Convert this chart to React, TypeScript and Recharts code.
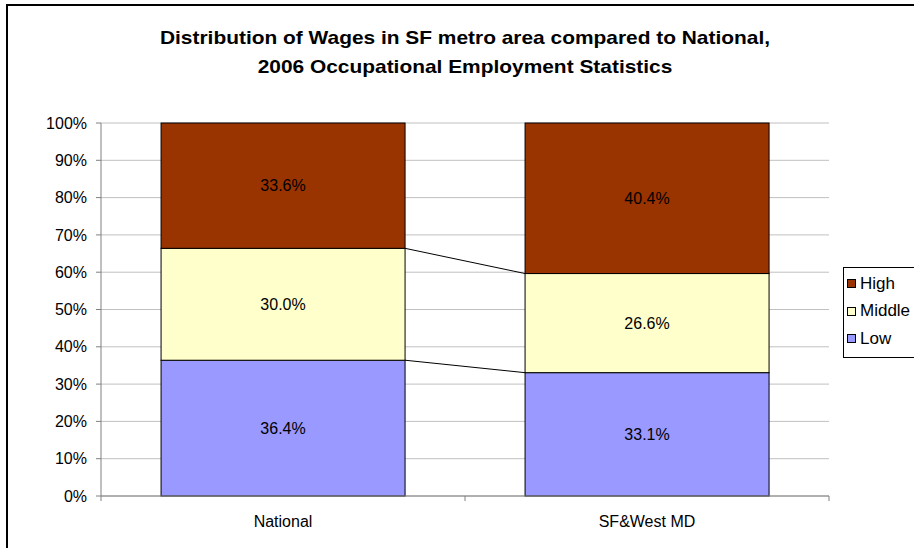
import React from 'react';
import { BarChart, Bar, XAxis, YAxis, CartesianGrid, Legend, LabelList } from 'recharts';

const categories = ['National', 'SF&West MD'];
const lowValues = [36.4, 33.1];
const middleValues = [30.0, 26.6];
const highValues = [33.6, 40.4];
const yTicks = [0, 0.1, 0.2, 0.3, 0.4, 0.5, 0.6, 0.7, 0.8, 0.9, 1];
const legendOrder = ['High', 'Middle', 'Low'];

const LOW = '#9999FF';
const MIDDLE = '#FFFFCC';
const HIGH = '#993300';
const FONT = 'Arial, "Liberation Sans", sans-serif';

const data = categories.map((name, i) => ({
  name,
  low: lowValues[i],
  middle: middleValues[i],
  high: highValues[i],
}));

// chart geometry
const W = 914;
const H = 548;
const margin = { top: 123, right: 85, bottom: 12, left: 41 };
const yAxisWidth = 60;
const plotWidth = W - margin.left - margin.right - yAxisWidth;
const band = plotWidth / categories.length;

// remembers the first bar's edge so the second one can draw the Excel style series line
const seriesEdges: Record<string, { right: number; top: number }> = {};

const makeShape = (key: string, fill: string, connect: boolean) => (props: any) => {
  const { x, y, width, height, index } = props;
  let line = null;
  if (connect) {
    if (index === 0) {
      seriesEdges[key] = { right: x + width, top: y };
    } else if (seriesEdges[key]) {
      const prev = seriesEdges[key];
      line = <line x1={prev.right} y1={prev.top} x2={x} y2={y} stroke="#000" strokeWidth={1} />;
    }
  }
  return (
    <g>
      <rect x={x} y={y} width={width} height={height} fill={fill} stroke="#000" strokeWidth={1} />
      {line}
    </g>
  );
};

const CategoryTick = (props: any) => {
  const { x, y, payload, index } = props;
  const left = x - band / 2;
  return (
    <g>
      <line x1={left} y1={y - 5} x2={left} y2={y} stroke="#808080" />
      {index === categories.length - 1 && (
        <line x1={x + band / 2} y1={y - 5} x2={x + band / 2} y2={y} stroke="#808080" />
      )}
      <text x={x} y={y + 26} textAnchor="middle" fill="#000" fontSize={16} fontFamily={FONT}>
        {payload.value}
      </text>
    </g>
  );
};

// the legend box runs off the right edge of the picture, so no right border
const LegendBox = (props: any) => {
  const items = [...(props.payload || [])].sort(
    (a: any, b: any) => legendOrder.indexOf(a.value) - legendOrder.indexOf(b.value)
  );
  return (
    <div
      style={{
        border: '1px solid #000',
        borderRight: 'none',
        background: '#fff',
        width: 110,
        padding: '2px 0 4px 3px',
        fontFamily: FONT,
        fontSize: 17,
        color: '#000',
        whiteSpace: 'nowrap',
      }}
    >
      {items.map((it: any) => (
        <div key={it.value} style={{ display: 'flex', alignItems: 'center', height: 27.5 }}>
          <span
            style={{
              display: 'inline-block',
              width: 7,
              height: 7,
              border: '1px solid #000',
              background: it.color,
              marginRight: 4,
            }}
          />
          {it.value}
        </div>
      ))}
    </div>
  );
};

const fmt = (v: any) => `${Number(v).toFixed(1)}%`;

export default function App() {
  return (
    <div
      style={{
        position: 'fixed',
        left: 0,
        top: 0,
        width: W,
        height: H,
        overflow: 'hidden',
        background: '#fff',
        fontFamily: FONT,
      }}
    >
      <div
        style={{
          position: 'absolute',
          left: 6,
          top: 4,
          width: 1000,
          height: 1000,
          border: '2px solid #000',
        }}
      />
      <div
        style={{
          position: 'absolute',
          left: 115,
          width: 700,
          top: 23,
          textAlign: 'center',
          fontWeight: 'bold',
          fontSize: 19,
          lineHeight: '29px',
          color: '#000',
          transform: 'scaleX(1.1)',
        }}
      >
        Distribution of Wages in SF metro area compared to National,
        <br />
        2006 Occupational Employment Statistics
      </div>
      <div style={{ position: 'absolute', left: 0, top: 0 }}>
        <BarChart
          width={W}
          height={H}
          data={data}
          margin={margin}
          stackOffset="expand"
          barCategoryGap="16.5%"
          style={{ fontFamily: FONT }}
        >
          <CartesianGrid vertical={false} stroke="#c0c0c0" />
          <XAxis
            dataKey="name"
            height={40}
            axisLine={{ stroke: '#808080' }}
            tickLine={false}
            tickSize={5}
            tickMargin={0}
            interval={0}
            tick={<CategoryTick />}
          />
          <YAxis
            width={yAxisWidth}
            domain={[0, 1]}
            ticks={yTicks}
            interval={0}
            axisLine={{ stroke: '#808080' }}
            tickLine={{ stroke: '#808080' }}
            tickSize={5}
            tickMargin={9}
            tick={{ fill: '#000', fontSize: 16 }}
            tickFormatter={(v: number) => `${Math.round(v * 100)}%`}
          />
          <Legend
            layout="vertical"
            align="center"
            verticalAlign="middle"
            content={<LegendBox />}
            wrapperStyle={{ left: 843, top: 267, width: 130 }}
          />
          <Bar dataKey="low" name="Low" stackId="a" fill={LOW} isAnimationActive={false} shape={makeShape('low', LOW, true)}>
            <LabelList dataKey="low" position="center" formatter={fmt} fill="#000" fontSize={16} />
          </Bar>
          <Bar dataKey="middle" name="Middle" stackId="a" fill={MIDDLE} isAnimationActive={false} shape={makeShape('middle', MIDDLE, true)}>
            <LabelList dataKey="middle" position="center" formatter={fmt} fill="#000" fontSize={16} />
          </Bar>
          <Bar dataKey="high" name="High" stackId="a" fill={HIGH} isAnimationActive={false} shape={makeShape('high', HIGH, false)}>
            <LabelList dataKey="high" position="center" formatter={fmt} fill="#000" fontSize={16} />
          </Bar>
        </BarChart>
      </div>
    </div>
  );
}
